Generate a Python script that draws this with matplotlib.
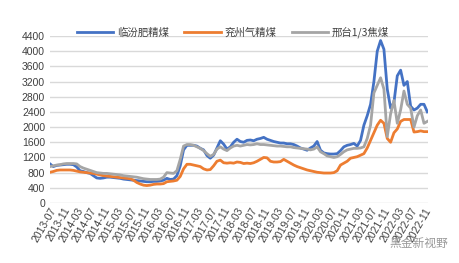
import matplotlib
matplotlib.use("Agg")
import matplotlib.pyplot as plt
import pandas as pd

plt.rcParams['font.family'] = ['Liberation Sans', 'Noto Sans CJK SC', 'DejaVu Sans']

# monthly, 2013-07 .. 2022-12
months = pd.date_range("2013-07-01", "2022-12-01", freq="MS").strftime("%Y-%m").tolist()

linfen = [1030, 960, 990, 1000, 1010, 1020, 1020, 1010, 950, 850,
          830, 800, 780, 720, 660, 650, 660, 680, 680, 670,
          660, 650, 630, 620, 610, 600, 590, 580, 570, 560,
          560, 570, 570, 580, 600, 650, 620, 630, 720, 980,
          1400, 1520, 1520, 1520, 1500, 1440, 1400, 1250, 1180, 1260,
          1450, 1640, 1550, 1420, 1480, 1600, 1680, 1620, 1600, 1650,
          1660, 1640, 1680, 1700, 1730, 1680, 1650, 1620, 1600, 1580,
          1580, 1560, 1560, 1540, 1500, 1450, 1420, 1390, 1450, 1500,
          1620, 1390, 1320, 1300, 1290, 1290, 1300, 1380, 1480, 1520,
          1540, 1570, 1500, 1650, 2050, 2300, 2600, 3200, 4000, 4280,
          4050, 3000, 2500, 2650, 3350, 3500, 3100, 3200, 2550, 2450,
          2500, 2600, 2600, 2400]

yanzhou = [810, 830, 860, 870, 870, 870, 870, 860, 840, 820,
           810, 800, 790, 780, 760, 740, 720, 710, 700, 690,
           680, 670, 660, 650, 640, 600, 540, 500, 470, 460,
           470, 490, 500, 500, 510, 560, 570, 580, 600, 700,
           900, 1020, 1020, 1000, 980, 960, 900, 870, 880, 980,
           1100, 1130, 1060, 1050, 1060, 1050, 1080, 1070, 1040, 1050,
           1040, 1060, 1100, 1150, 1200, 1190, 1100, 1080, 1080, 1090,
           1150, 1100, 1050, 1000, 960, 930, 900, 870, 850, 830,
           810, 800, 790, 790, 790, 800, 850, 1000, 1050, 1100,
           1180, 1200, 1220, 1260, 1300, 1450, 1650, 1850, 2050, 2180,
           2100, 1700, 1600, 1850, 1950, 2150, 2200, 2200, 2200, 1870,
           1880, 1900, 1880, 1880]

xingtai = [960, 980, 1000, 1010, 1030, 1040, 1040, 1040, 1030, 960,
           920, 890, 860, 830, 800, 790, 780, 780, 770, 760,
           750, 740, 720, 710, 700, 690, 680, 660, 640, 630,
           620, 620, 620, 630, 680, 800, 790, 780, 850, 1150,
           1500, 1540, 1540, 1520, 1480, 1440, 1380, 1300, 1230, 1280,
           1420, 1480, 1420, 1380, 1450, 1500, 1520, 1500, 1520, 1540,
           1530, 1540, 1560, 1540, 1540, 1530, 1520, 1510, 1500, 1500,
           1490, 1480, 1480, 1460, 1450, 1440, 1430, 1420, 1400, 1420,
           1480, 1350, 1300, 1240, 1220, 1200, 1220, 1280, 1350, 1400,
           1420, 1440, 1440, 1450, 1480, 1700, 2050, 2900, 3100, 3300,
           3000, 1750, 2350, 2700, 2100, 2450, 2950, 2600, 2500, 2000,
           2300, 2450, 2100, 2150]

names = ["临汾肥精煤", "兖州气精煤", "邢台1/3焦煤"]
colors = ["#4472C4", "#ED7D31", "#A5A5A5"]

fig = plt.figure(figsize=(4.59, 2.63), dpi=100)
ax = fig.add_axes([50/459, 1-203/263, 378/459, 167/263])

x = range(len(months))
for vals, name, c in zip([linfen, yanzhou, xingtai], names, colors):
    ax.plot(x, vals, color=c, lw=2.0, label=name, solid_joinstyle='round')

ax.set_ylim(0, 4400)
ax.set_yticks(range(0, 4401, 400))
ax.set_xlim(0, 113.2)
ax.set_xticks(range(0, len(months), 4))
ax.set_xticklabels(months[::4], rotation=60, ha='right', rotation_mode='anchor')
ax.tick_params(axis='both', length=0, labelsize=7.5, colors='#404040')
ax.tick_params(axis='x', pad=2)
ax.grid(axis='y', color='#d9d9d9', lw=1)
ax.set_axisbelow(True)
for s in ax.spines.values():
    s.set_visible(False)

leg = ax.legend(loc='lower center', bbox_to_anchor=(0.484, 0.93), ncol=3, frameon=False,
                prop={'family': ['Noto Sans CJK SC', 'DejaVu Sans'], 'size': 7.5},
                handlelength=3.5, columnspacing=1.5, handletextpad=0.35)
for t in leg.get_texts():
    t.set_color('#404040')

fig.text(0.848, 0.06, "黑金新视野", family=['Noto Sans CJK SC'], fontsize=8.5, color='#9a9a9a')

fig.savefig("out.png", dpi=100)
